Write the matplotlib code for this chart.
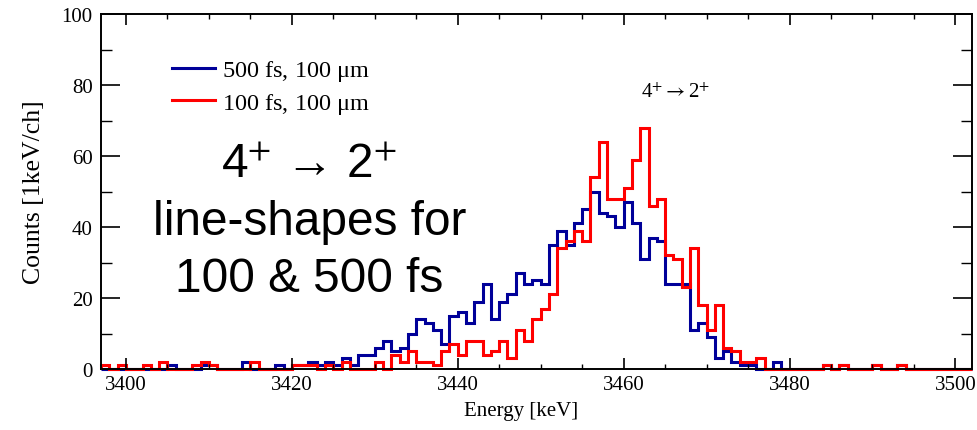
import numpy as np
import matplotlib
matplotlib.use("Agg")
import matplotlib.pyplot as plt
from matplotlib.ticker import MultipleLocator

# bin edges, 1 keV per channel
energy_lo = 3397
energy_hi = 3502

# counts per channel, 3397 ... 3501 keV
counts_500fs = [
    0, 0, 0, 0, 0, 0, 0, 0, 1, 0,      # 3397-3406
    0, 0, 1, 1, 0, 0, 0, 2, 0, 0,      # 3407-3416
    0, 1, 0, 1, 1, 2, 1, 2, 1, 3,      # 3417-3426
    1, 4, 4, 6, 8, 5, 6, 10, 14, 13,   # 3427-3436
    11, 7, 15, 16, 13, 19, 24, 14, 19, 21,   # 3437-3446
    27, 24, 25, 24, 35, 39, 35, 41, 45, 50,  # 3447-3456
    44, 43, 40, 47, 41, 31, 37, 36, 24, 24,  # 3457-3466
    24, 11, 13, 9, 3, 5, 2, 1, 1, 0,   # 3467-3476
    0, 2, 0, 0, 0, 0, 0, 1, 0, 1,      # 3477-3486
    0, 0, 0, 1, 0, 0, 1, 0, 0, 0,      # 3487-3496
    0, 0, 0, 0, 0,                     # 3497-3501
]
counts_100fs = [
    1, 0, 1, 0, 0, 1, 0, 2, 0, 0,      # 3397-3406
    0, 1, 2, 1, 0, 0, 0, 0, 2, 0,      # 3407-3416
    0, 0, 0, 1, 1, 1, 0, 1, 0, 2,      # 3417-3426
    0, 0, 0, 2, 0, 4, 2, 5, 2, 2,      # 3427-3436
    1, 5, 7, 4, 8, 8, 4, 5, 8, 3,      # 3437-3446
    11, 8, 14, 17, 21, 34, 36, 39, 36, 54,   # 3447-3456
    64, 48, 48, 51, 59, 68, 46, 48, 32, 31,  # 3457-3466
    23, 34, 18, 11, 18, 6, 5, 2, 2, 3,  # 3467-3476
    0, 0, 0, 0, 0, 0, 0, 1, 0, 1,      # 3477-3486
    0, 0, 0, 1, 0, 0, 1, 0, 0, 0,      # 3487-3496
    0, 0, 0, 0, 0,                     # 3497-3501
]
labels = ["500 fs, 100 $\\mathregular{\\mu}$m", "100 fs, 100 $\\mathregular{\\mu}$m"]
colors = ["#000099", "#ff0000"]

edges = np.arange(energy_lo, energy_hi + 1)

plt.rcParams["font.family"] = ["Liberation Serif", "DejaVu Serif"]
plt.rcParams["mathtext.fontset"] = "stix"

fig = plt.figure(figsize=(9.78, 4.31), dpi=100)
ax = fig.add_axes([0.1033, 0.1415, 0.8906, 0.8237])

for c, lab, col in zip([counts_500fs, counts_100fs], labels, colors):
    ax.stairs(c, edges, color=col, linewidth=2.2, label=lab, clip_on=False)

ax.set_xlim(energy_lo, energy_hi)
ax.set_ylim(0, 100)
ax.xaxis.set_major_locator(MultipleLocator(20))
ax.xaxis.set_minor_locator(MultipleLocator(5))
ax.yaxis.set_major_locator(MultipleLocator(20))
ax.yaxis.set_minor_locator(MultipleLocator(10))
ax.tick_params(axis="x", which="major", direction="in", length=8, width=1.2,
               top=True, labelsize=15, pad=4)
ax.tick_params(axis="x", which="minor", direction="in", length=3.5, width=1.0, top=True)
ax.tick_params(axis="y", which="major", direction="in", length=14, width=1.2,
               right=True, labelsize=15, pad=6)
ax.tick_params(axis="y", which="minor", direction="in", length=8, width=1.0, right=True)
for sp in ax.spines.values():
    sp.set_linewidth(1.4)

ax.set_xlabel("Energy [keV]", fontsize=15)
ax.xaxis.set_label_coords(0.482, -0.09)
ax.set_ylabel("Counts [1keV/ch]", fontsize=18.5, labelpad=12)

ax.legend(loc="upper left", bbox_to_anchor=(0.0815, 0.876), frameon=False,
          fontsize=17.5, handlelength=1.75, handletextpad=0.3, labelspacing=0.31,
          borderpad=0, borderaxespad=0)

ax.text(3466.3, 78, "4$^{+}$$\\rightarrow$2$^{+}$", fontsize=15, ha="center", va="center")

big = ["4$^{+}$ \u2192 2$^{+}$", "line-shapes for", "100 & 500 fs"]
for i, line in enumerate(big):
    ax.text(3422.1, 57.5 - i * 16.0, line, fontsize=34.4, ha="center", va="center",
            family=["Liberation Sans", "DejaVu Sans"], math_fontfamily="stixsans")

fig.savefig("out.png", dpi=100)
